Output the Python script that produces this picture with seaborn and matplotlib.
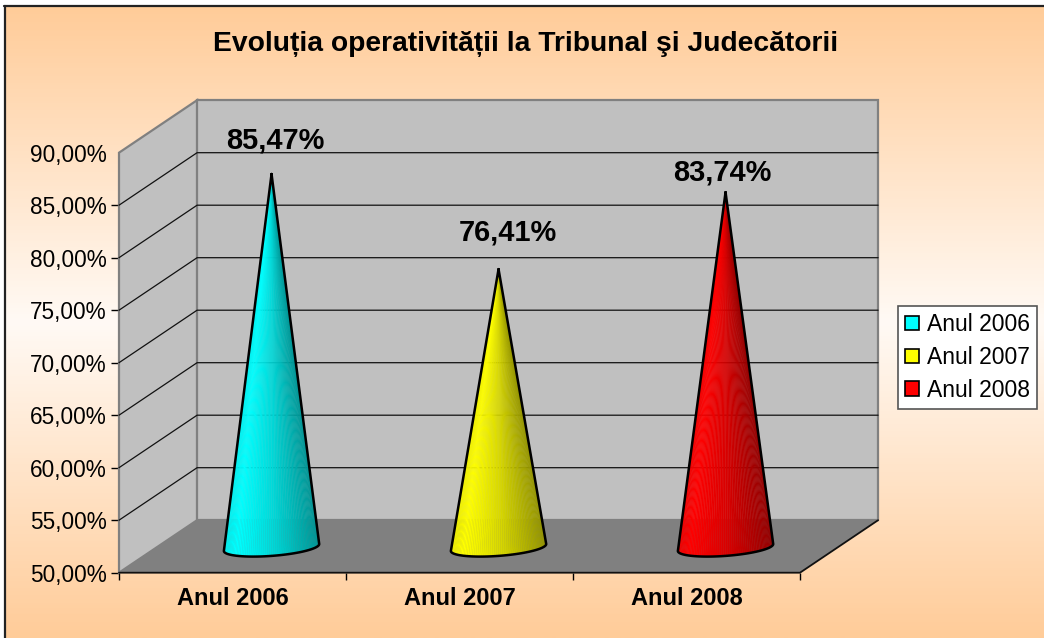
import numpy as np
import pandas as pd
import matplotlib
matplotlib.use("Agg")
import matplotlib.pyplot as plt
from matplotlib.collections import PolyCollection
from matplotlib.colors import LinearSegmentedColormap
from matplotlib.ticker import FuncFormatter
import seaborn as sns

# date
ani = ["Anul 2006", "Anul 2007", "Anul 2008"]
operativitate = [85.47, 76.41, 83.74]
culori = ["#00FFFF", "#FFFF00", "#FF0000"]
etichete = ["85,47%", "76,41%", "83,74%"]
titlu = "Evoluția operativității la Tribunal şi Judecătorii"
valori_y = [50, 55, 60, 65, 70, 75, 80, 85, 90]

W, H = 1044, 638
DX, DY = 0.344, 5.0  # adancimea 3D, in unitati de date
# deplasarea etichetelor fata de varful conului (x, y in unitati de date)
depl_etichete = [(0.015, 3.2), (0.04, 3.5), (-0.013, 1.9)]

sns.set_theme(style="white")
plt.rcParams["font.family"] = ["Liberation Sans", "DejaVu Sans"]

fig = plt.figure(figsize=(W / 100, H / 100), dpi=100, facecolor="white")

# fundal cu gradient
bg = fig.add_axes([5 / W, 0, 1 - 5 / W, 1 - 6 / H], zorder=0)
bg.axis("off")
cmap_bg = LinearSegmentedColormap.from_list("bg", ["#FFCC99", "#FFFAF5", "#FFCC99"])
bg.imshow(np.linspace(0, 1, 400).reshape(-1, 1), cmap=cmap_bg, aspect="auto", extent=(0, 1, 0, 1))
fig.add_artist(plt.Line2D([4.5 / W, 4.5 / W], [0, 1 - 5.5 / H], color="#222222", lw=1.6))
fig.add_artist(plt.Line2D([4 / W, 1], [1 - 6 / H, 1 - 6 / H], color="#222222", lw=1.6))

ax = fig.add_axes([119 / W, (H - 572.7) / H, 681 / W, 420 / H], zorder=1)
ax.patch.set_alpha(0)

df = pd.DataFrame({"an": ani, "val": operativitate})
sns.barplot(data=df, x="an", y="val", hue="an", palette=culori, dodge=False, width=0.42, saturation=1,
            edgecolor="black", linewidth=1.2, legend=True, ax=ax)
ax.set_xlim(-0.5, 2.5)
ax.set_ylim(50, 90)
ax.set_xlabel("")
ax.set_ylabel("")
sns.despine(ax=ax, left=True, bottom=True)

# pereti si podea
x0, x1 = ax.get_xlim()
y0, y1 = ax.get_ylim()
ax.fill([x0, x0 + DX, x0 + DX, x0], [y0, y0 + DY, y1 + DY, y1], fc="#C0C0C0", ec="#808080",
        lw=1.6, clip_on=False, zorder=1)
ax.fill([x0 + DX, x1 + DX, x1 + DX, x0 + DX], [y0 + DY, y0 + DY, y1 + DY, y1 + DY], fc="#C0C0C0",
        ec="#808080", lw=1.6, clip_on=False, zorder=1)
ax.fill([x0, x1, x1 + DX, x0 + DX], [y0, y0, y0 + DY, y0 + DY], fc="#808080", ec="none",
        clip_on=False, zorder=1.5)
for v in valori_y[1:-1]:
    ax.plot([x0, x0 + DX, x1 + DX], [v, v + DY, v + DY], color="#111111", lw=0.9, clip_on=False, zorder=1.2)
ax.plot([x0 + DX, x1 + DX], [y0 + DY, y0 + DY], color="#808080", lw=1.4, clip_on=False, zorder=1.6)
ax.plot([x0, x1, x1 + DX], [y0, y0, y0 + DY], color="#111111", lw=1.3, clip_on=False, zorder=1.7)

# axe
ax.set_xticks([-0.5, 0.5, 1.5, 2.5], labels=[])
ax.set_xticks([0, 1, 2], labels=ani, minor=True)
ax.tick_params(axis="x", which="major", length=5, width=1, color="black", bottom=True)
ax.tick_params(axis="x", which="minor", length=0, pad=10, labelsize=17)
for lab in ax.get_xticklabels(minor=True):
    lab.set_fontweight("bold")
    lab.set_color("black")
ax.set_yticks(valori_y)
ax.yaxis.set_major_formatter(FuncFormatter(lambda v, _: f"{v:.2f}%".replace(".", ",")))
ax.tick_params(axis="y", length=6, width=1, color="black", left=True, pad=3, labelsize=16.3, labelcolor="black")
ax.yaxis.get_major_ticks()[-1].tick1line.set_visible(False)

# legenda
sns.move_legend(ax, "upper left", bbox_to_anchor=(898 / W, (H - 306) / H), bbox_transform=fig.transFigure,
                title=None, frameon=True, fancybox=False, framealpha=1, facecolor="white", edgecolor="#555555",
                fontsize=16.5, labelcolor="black", handlelength=0.58, handleheight=0.58, handletextpad=0.35,
                labelspacing=0.42, borderpad=0.32, borderaxespad=0)
ax.get_legend().get_frame().set_linewidth(1.2)
ax.get_legend().set_zorder(10)


def culoare_con(culoare, t):
    # umbrire de la stanga la dreapta a conului
    rgb = np.array(matplotlib.colors.to_rgb(culoare))
    return rgb * np.interp(t, [0, 0.12, 0.5, 1], [0.94, 1.0, 0.85, 0.58])


# conurile pornesc din geometria barelor
bare = list(ax.patches)
for bara, culoare, eticheta, depl in zip(bare, culori, etichete, depl_etichete):
    cx = bara.get_x() + bara.get_width() / 2 + DX / 2
    varf = bara.get_height() + DY / 2
    baza = y0 + DY / 2
    a = bara.get_width() / 2
    t = np.linspace(np.pi, 2 * np.pi, 71)
    bx = cx + a * np.cos(t)
    by = baza - 0.1 + 0.8 * np.sin(t) + 0.33 * np.cos(t)
    fete = [[(cx, varf), (bx[i], by[i]), (bx[i + 1], by[i + 1])] for i in range(len(t) - 1)]
    fete_col = [culoare_con(culoare, (bx[i] - bx[0]) / (bx[-1] - bx[0])) for i in range(len(t) - 1)]
    ax.add_collection(PolyCollection(fete, facecolors=fete_col, edgecolors="face", linewidths=0.25,
                                     zorder=3, clip_on=False))
    ax.plot(np.r_[cx, bx, cx], np.r_[varf, by, varf], color="black", lw=1.8, solid_joinstyle="round",
            clip_on=False, zorder=4)
    ax.text(cx + depl[0], varf + depl[1], eticheta, ha="center", va="center", fontsize=20.9, fontweight="bold",
            color="black", clip_on=False, zorder=5)
    bara.set_visible(False)

fig.text(525.5 / W, 1 - 44 / H, titlu, ha="center", va="center", fontsize=20.3, fontweight="bold", color="black", zorder=5)

fig.savefig("out.png", dpi=100)
